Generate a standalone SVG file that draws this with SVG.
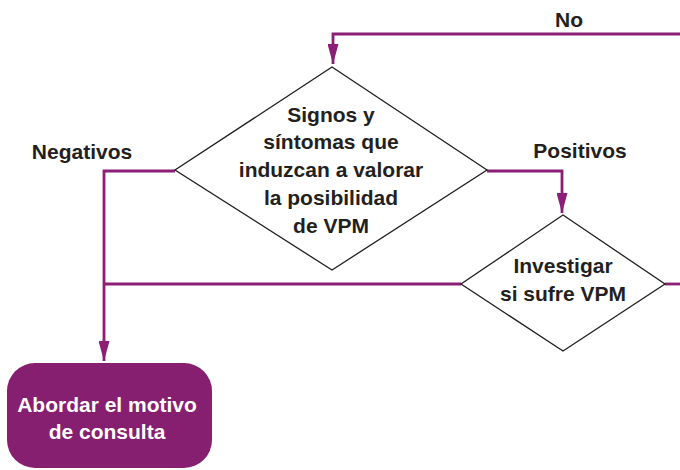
<svg xmlns="http://www.w3.org/2000/svg" width="680" height="470" viewBox="0 0 680 470">
<defs>
<style>
.t{font-family:"Liberation Sans",Arial,sans-serif;font-weight:bold;font-size:21px;fill:#231f20;text-anchor:middle}
.w{fill:#ffffff}
.c{fill:none;stroke:#8a1f75;stroke-width:2.8}
.d{fill:#ffffff;stroke:#231f20;stroke-width:1.3}
</style>
<marker id="ah" viewBox="0 0 20 11" refX="20" refY="5.5" markerWidth="20" markerHeight="11" markerUnits="userSpaceOnUse" orient="auto">
<path d="M0,0 L20,5.5 L0,11 Z" fill="#8a1f75"/>
</marker>
</defs>
<rect width="680" height="470" fill="#ffffff"/>
<g id="connectors">
<path class="c" d="M680,34 H333 V64" marker-end="url(#ah)"/>
<path class="c" d="M175,171 H104 V361" marker-end="url(#ah)"/>
<path class="c" d="M487,171 H562 V213" marker-end="url(#ah)"/>
<path class="c" d="M461,284 H104"/>
<path class="c" d="M665,284 H680"/>
<text class="t" x="569" y="27">No</text>
<text class="t" x="82" y="159">Negativos</text>
<text class="t" x="580" y="158">Positivos</text>
</g>
<g id="decision1">
<polygon class="d" points="332,67 487,170 332,270 175,170"/>
<text class="t" x="331" y="122">Signos y</text>
<text class="t" x="331" y="149">síntomas que</text>
<text class="t" x="331" y="177">induzcan a valorar</text>
<text class="t" x="331" y="205">la posibilidad</text>
<text class="t" x="331" y="233">de VPM</text>
</g>
<g id="decision2">
<polygon class="d" points="563,215 665,284 563,351 461,284"/>
<text class="t" x="563" y="273">Investigar</text>
<text class="t" x="563" y="301">si sufre VPM</text>
</g>
<g id="abordar">
<rect x="7" y="363" width="205" height="105" rx="28" ry="28" fill="#861f70"/>
<text class="t w" x="107" y="412">Abordar el motivo</text>
<text class="t w" x="107" y="439">de consulta</text>
</g>
</svg>
